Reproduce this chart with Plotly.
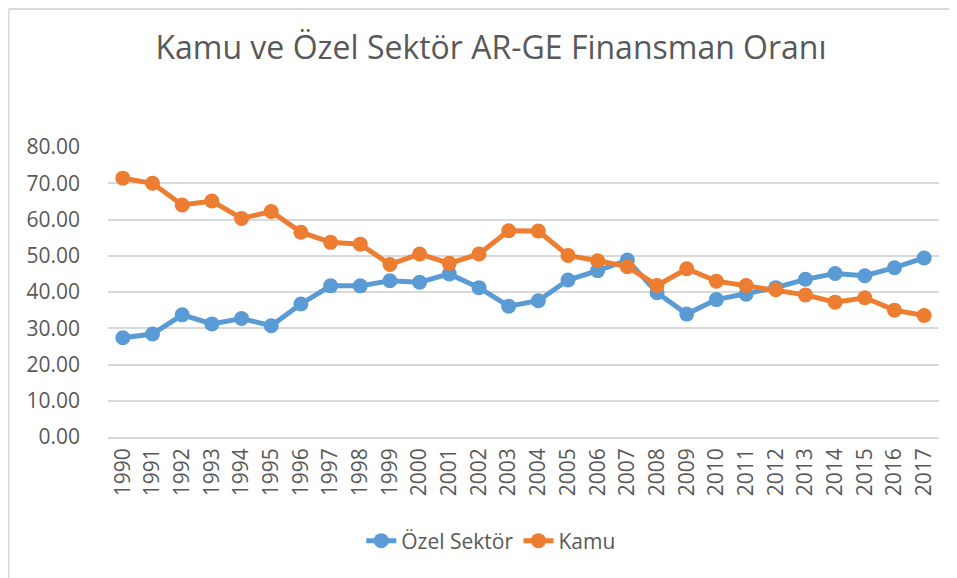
import plotly.graph_objects as go

years = [str(y) for y in range(1990, 2018)]
ozel = [27.4, 28.4, 33.7, 31.2, 32.7, 30.7, 36.7, 41.7, 41.7, 43.1,
        42.7, 45.0, 41.2, 36.1, 37.6, 43.3, 45.9, 48.8, 39.8, 33.9,
        37.9, 39.4, 41.2, 43.5, 45.1, 44.5, 46.7, 49.4]
kamu = [71.4, 70.0, 64.0, 65.1, 60.3, 62.2, 56.5, 53.7, 53.2, 47.6,
        50.5, 47.9, 50.5, 56.9, 56.8, 50.1, 48.6, 47.0, 41.8, 46.4,
        43.0, 41.8, 40.6, 39.2, 37.2, 38.4, 35.0, 33.5]
y_ticks = [0, 10, 20, 30, 40, 50, 60, 70, 80]

BLUE = "#5B9BD5"
ORANGE = "#ED7D31"
TXT = "#595959"

fig = go.Figure()
fig.add_trace(go.Scatter(x=years, y=ozel, name="Özel Sektör", mode="lines+markers",
                         line=dict(color=BLUE, width=5),
                         marker=dict(color=BLUE, size=15)))
fig.add_trace(go.Scatter(x=years, y=kamu, name="Kamu", mode="lines+markers",
                         line=dict(color=ORANGE, width=5),
                         marker=dict(color=ORANGE, size=15)))

# page body has an 8px margin; work in reference-pixel coordinates
OFF = 8
W, H = 957 - OFF, 578 - OFF
L, T = 107.5 - OFF, 147 - OFF
R = 18
ph = 290
B = H - T - ph
pw = W - L - R

def px(x):
    return (x - OFF - L) / pw

def py(y):
    return (T + ph - (y - OFF)) / ph

fig.update_layout(
    width=W, height=H,
    margin=dict(l=L, r=R, t=T, b=B, autoexpand=False),
    paper_bgcolor="white", plot_bgcolor="white",
    font=dict(family="Open Sans", color=TXT, size=19),
    title=dict(text="Kamu ve Özel Sektör AR-GE Finansman Oranı",
               x=(491 - OFF) / W, xref="container", xanchor="center",
               y=1 - (48 - OFF) / H, yref="container", yanchor="middle",
               font=dict(family="Open Sans", size=32, color=TXT)),
    showlegend=True,
    legend=dict(orientation="h", x=px(491), xanchor="center", xref="paper",
                y=py(541), yanchor="middle", font=dict(size=21, color=TXT),
                bgcolor="rgba(0,0,0,0)"),
    xaxis=dict(type="category", range=[-0.5, 27.5], tickangle=-90,
               showgrid=False, showline=True, linecolor="#D9D9D9", linewidth=1.5,
               ticks="", tickfont=dict(size=21, color=TXT), ticklabelstandoff=1),
    yaxis=dict(range=[0, 80], tickvals=y_ticks,
               ticktext=[f"{v:.2f}" for v in y_ticks],
               showgrid=True, gridcolor="#D9D9D9", gridwidth=1.5,
               zeroline=False, showline=False, ticks="",
               tickfont=dict(size=21, color=TXT), ticklabelstandoff=27),
    shapes=[
        dict(type="line", xref="paper", yref="paper", x0=px(8), x1=px(8),
             y0=py(9), y1=py(600), line=dict(color="#D9D9D9", width=2)),
        dict(type="line", xref="paper", yref="paper", x0=px(8), x1=px(980),
             y0=py(9), y1=py(9), line=dict(color="#D9D9D9", width=2)),
    ],
)

fig.write_html("out.html")
